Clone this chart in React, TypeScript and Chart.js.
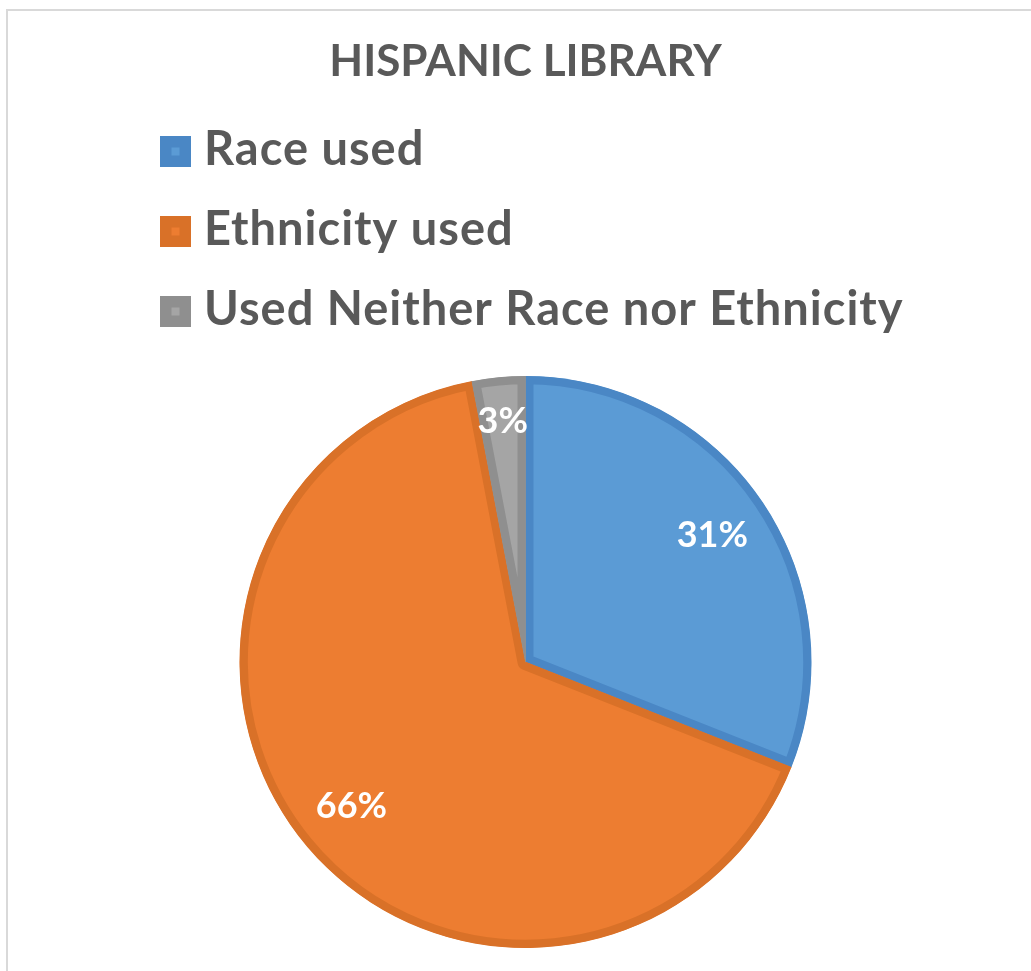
import React, { useEffect, useRef } from 'react';
import { Chart, registerables } from 'chart.js';

Chart.register(...registerables);

const TITLE = 'HISPANIC LIBRARY';
const categories = ['Race used', 'Ethnicity used', 'Used Neither Race nor Ethnicity'];
const values = [31, 66, 3];
const fillColors = ['#5b9bd5', '#ed7d31', '#a5a5a5'];
const edgeColors = ['#4a87c5', '#d97128', '#8f8f8f'];

const FONT = 'Lato, "Open Sans", sans-serif';
const TEXT_GREY = '#595959';

const legendPlugin = {
  id: 'excelLegend',
  afterDraw(chart: any) {
    const ctx = chart.ctx;
    const labels = chart.data.labels as string[];
    const ds = chart.data.datasets[0] as any;
    ctx.save();
    ctx.font = `bold 47px ${FONT}`;
    (ctx as any).letterSpacing = '1px';
    ctx.textAlign = 'left';
    ctx.textBaseline = 'alphabetic';
    labels.forEach((lab, i) => {
      const cy = 151.5 + i * 80;
      ctx.fillStyle = ds.borderColor[i];
      ctx.fillRect(160, cy - 15.5, 31, 31);
      ctx.fillStyle = ds.backgroundColor[i];
      ctx.fillRect(171.5, cy - 4, 8, 8);
      ctx.fillStyle = TEXT_GREY;
      ctx.fillText(lab, 204, cy + 13.5);
    });
    ctx.restore();
  },
};

const pctPlugin = {
  id: 'pctLabels',
  afterDatasetsDraw(chart: any) {
    const ctx = chart.ctx;
    const meta = chart.getDatasetMeta(0);
    const data = chart.data.datasets[0].data as number[];
    const total = data.reduce((a, b) => a + b, 0);
    ctx.save();
    ctx.font = `bold 36px ${FONT}`;
    ctx.fillStyle = '#ffffff';
    ctx.textAlign = 'center';
    ctx.textBaseline = 'middle';
    meta.data.forEach((arc: any, i: number) => {
      const p = arc.getProps(['x', 'y', 'startAngle', 'endAngle', 'outerRadius'], true);
      const mid = (p.startAngle + p.endAngle) / 2;
      const frac = (p.endAngle - p.startAngle) / (2 * Math.PI);
      const k = frac < 0.1 ? 0.845 : 0.79;
      const txt = Math.round((data[i] / total) * 100) + '%';
      ctx.fillText(txt, p.x + Math.cos(mid) * p.outerRadius * k, p.y + Math.sin(mid) * p.outerRadius * k);
    });
    ctx.restore();
  },
};

export default function App() {
  const ref = useRef<HTMLCanvasElement | null>(null);

  useEffect(() => {
    if (!ref.current) return;
    const chart = new Chart(ref.current, {
      type: 'pie',
      data: {
        labels: categories,
        datasets: [
          {
            data: values,
            backgroundColor: fillColors,
            borderColor: edgeColors,
            borderWidth: 8,
            borderAlign: 'inner',
            hoverOffset: 0,
          } as any,
        ],
      },
      options: {
        responsive: false,
        animation: false,
        events: [],
        radius: 286,
        layout: { padding: { top: 0, left: 20, right: 0, bottom: 19.5 } },
        plugins: {
          legend: { display: false },
          tooltip: { enabled: false },
          title: {
            display: true,
            text: TITLE,
            color: TEXT_GREY,
            font: { family: FONT, size: 44, weight: 'bold', lineHeight: 1.2 },
            padding: { top: 35.6, bottom: 284.1 },
          },
        },
      } as any,
      plugins: [legendPlugin, pctPlugin],
    });
    return () => chart.destroy();
  }, []);

  return (
    <>
      <div
        style={{
          position: 'fixed',
          left: 6,
          top: 9,
          width: 1100,
          height: 1100,
          borderLeft: '2px solid #d9d9d9',
          borderTop: '2px solid #d9d9d9',
          boxSizing: 'border-box',
        }}
      />
      <canvas
        ref={ref}
        width={1031}
        height={971}
        style={{ position: 'fixed', left: 0, top: 0, width: 1031, height: 971 }}
      />
    </>
  );
}
